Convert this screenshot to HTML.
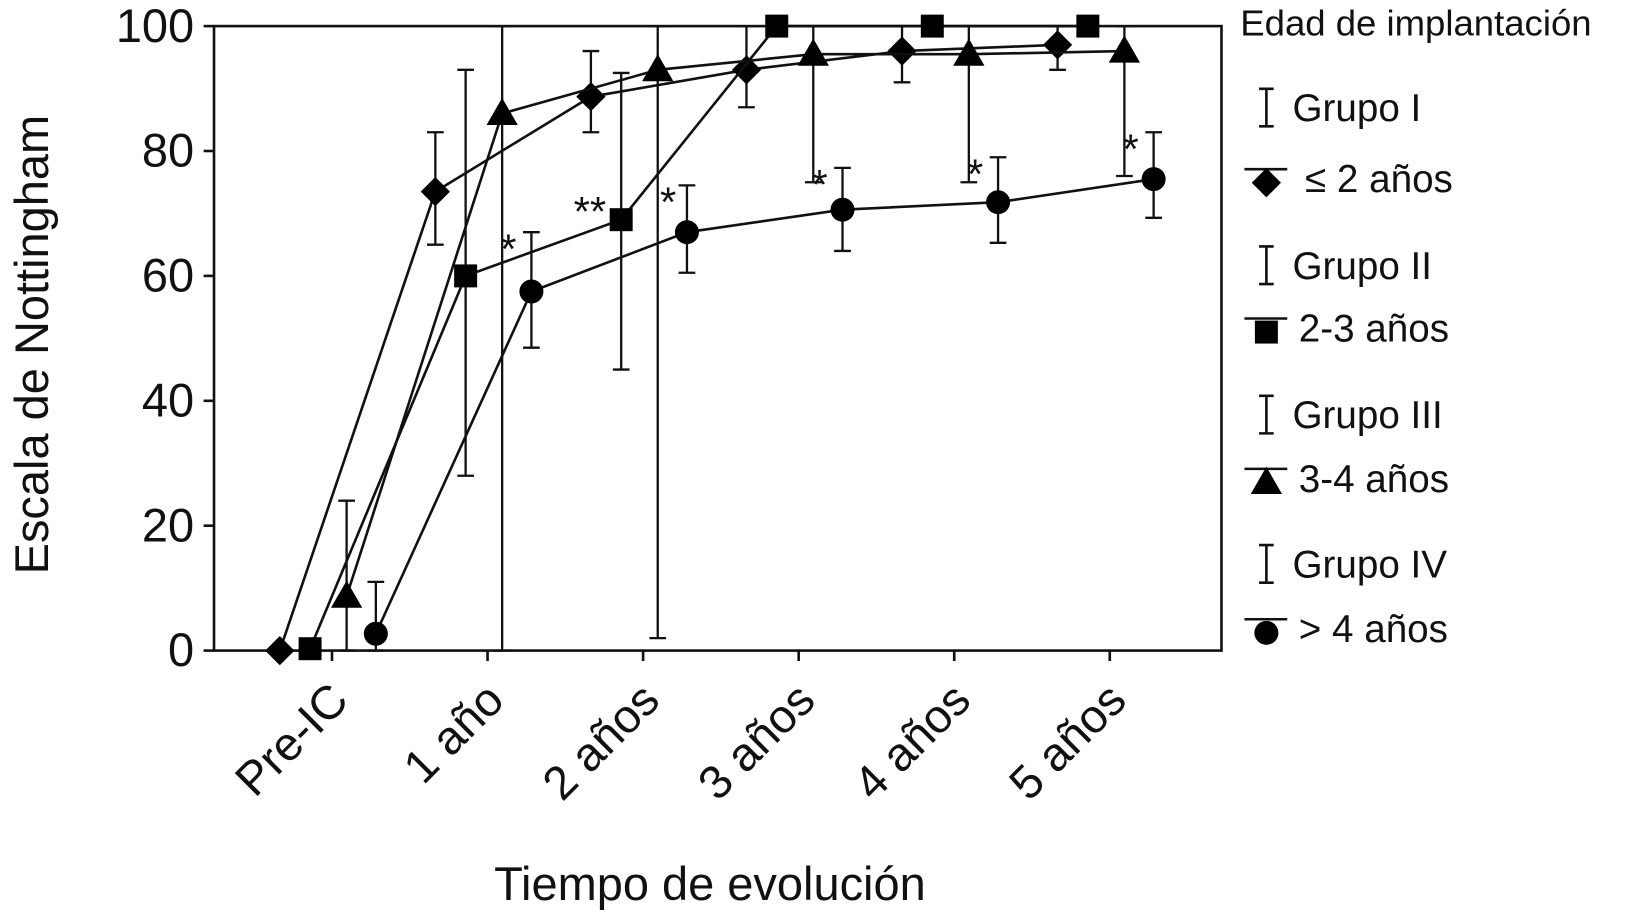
<!DOCTYPE html>
<html><head><meta charset="utf-8"><style>html,body{margin:0;padding:0;background:#fff}svg{display:block}text{font-family:"Liberation Sans",Arial,sans-serif;fill:#111}</style></head>
<body>
<svg id="chart" width="1637" height="920" viewBox="0 0 1568 881" preserveAspectRatio="none" xmlns="http://www.w3.org/2000/svg">
<rect x="205" y="25" width="965" height="598" fill="none" stroke="#111" stroke-width="2.5"/>
<g id="axes"></g><g id="series"></g><g id="legend"></g>
<text transform="translate(46,330) rotate(-90)" text-anchor="middle" font-size="45">Escala de Nottingham</text>
<text x="680" y="862" text-anchor="middle" font-size="45">Tiempo de evolución</text>
</svg>
<script>
const categories=["Pre-IC","1 año","2 años","3 años","4 años","5 años"];
const yTicks=[0,20,40,60,80,100];
const seriesNames=["≤ 2 años","2-3 años","3-4 años","> 4 años"];
const groupNames=["Grupo I","Grupo II","Grupo III","Grupo IV"];
const markers=["diamond","square","triangle","circle"];
const offsets=[-50,-21,14,42];
const diamondVals=[0,73.5,88.7,93,96,97];
const diamondLo=[0,65,83,87,91,93];
const diamondHi=[0,83,96,100,100,100];
const squareVals=[0.3,60,69,100,100,100];
const squareLo=[0.3,28,45,100,100,100];
const squareHi=[0.3,93,92.5,100,100,100];
const triangleVals=[8.7,86,93,95.5,95.5,96];
const triangleLo=[0,0,2,75,75,76];
const triangleHi=[24,100,100,100,100,100];
const circleVals=[2.7,57.5,67,70.6,71.8,75.5];
const circleLo=[0,48.5,60.5,64,65.3,69.3];
const circleHi=[11,67,74.5,77.3,79,83];
const starLabels=["","*","**","*","*","*"];
const starLabels2=["","","*","","",""];
const vals=[diamondVals,squareVals,triangleVals,circleVals];
const los=[diamondLo,squareLo,triangleLo,circleLo];
const his=[diamondHi,squareHi,triangleHi,circleHi];

const NS="http://www.w3.org/2000/svg";
const X0=318,DX=149,YB=623,YT=25;
const xs=i=>X0+i*DX;
const ys=v=>YB-(v/100)*(YB-YT);
function mk(tag,attrs,parent){const e=document.createElementNS(NS,tag);for(const k in attrs)e.setAttribute(k,attrs[k]);parent.appendChild(e);return e;}
const axes=document.getElementById('axes'),ser=document.getElementById('series'),leg=document.getElementById('legend');
yTicks.forEach(t=>{
 const l=mk('line',{x1:195,x2:205,y1:ys(t),y2:ys(t),stroke:'#111','stroke-width':2.5},axes);
 
 
 const tx=mk('text',{x:186,y:ys(t)+15,'text-anchor':'end','font-size':45},axes);tx.textContent=t;
 
 
});
categories.forEach((c,i)=>{
 const l=mk('line',{x1:xs(i),x2:xs(i),y1:YB,y2:YB+10,stroke:'#111','stroke-width':2.5},axes);
 
 
 const tx=mk('text',{transform:`translate(${xs(i)+18},${YB+50}) rotate(-45)`,'text-anchor':'end','font-size':45},axes);tx.textContent=c;
 
 
});
function marker(type,x,y,p,s){
 s=s||1;let e;
 if(type==='diamond')e=mk('polygon',{points:`${x},${y-14*s} ${x+14*s},${y} ${x},${y+14*s} ${x-14*s},${y}`,fill:'#000'},p);
 else if(type==='square')e=mk('rect',{x:x-11*s,y:y-11*s,width:22*s,height:22*s,fill:'#000'},p);
 else if(type==='triangle')e=mk('polygon',{points:`${x},${y-15*s} ${x+15*s},${y+11*s} ${x-15*s},${y+11*s}`,fill:'#000'},p);
 else e=mk('circle',{cx:x,cy:y,r:11.5*s,fill:'#000'},p);
 return e;
}
vals.forEach((v,s)=>{
 const g=mk('g',{},ser);
 
 
 const pts=v.map((d,i)=>`${xs(i)+offsets[s]},${ys(d)}`).join(' ');
 const pl=mk('polyline',{points:pts,fill:'none',stroke:'#111','stroke-width':2.5},g);
 
 
 v.forEach((d,i)=>{
  const x=xs(i)+offsets[s];
  if(his[s][i]!==los[s][i]){
   const eb=mk('path',{d:`M${x},${ys(los[s][i])}V${ys(his[s][i])}M${x-8},${ys(los[s][i])}H${x+8}M${x-8},${ys(his[s][i])}H${x+8}`,stroke:'#111','stroke-width':2.2,fill:'none'},g);
   
   
  }
  const m=marker(markers[s],x,ys(d),g);
  
  
 });
});
starLabels.forEach((st,i)=>{
 if(!st)return;
 const x=xs(i)+offsets[3];
 const t=mk('text',{x:x-22,y:ys(circleHi[i])+30,'text-anchor':'middle','font-size':40},ser);
 if(i===2){t.setAttribute('x',xs(i)+offsets[1]-30);t.setAttribute('y',ys(squareVals[i])+6);}
 t.textContent=st;
 
 
});
starLabels2.forEach((st,i)=>{
 if(!st)return;
 const t=mk('text',{x:xs(i)+offsets[3]-18,y:ys(circleHi[i])+30,'text-anchor':'middle','font-size':40},ser);
 t.textContent=st;
 
 
});
const lt=mk('text',{x:1188,y:34,'font-size':35},leg);lt.textContent="Edad de implantación";


const gy=[103,254,397,540],sy=[172,315,459,603];
groupNames.forEach((g,k)=>{
 const y=gy[k];
 const e=mk('path',{d:`M1213,${y-18}V${y+18}M1206,${y-18}H1220M1206,${y+18}H1220`,stroke:'#111','stroke-width':2.5,fill:'none'},leg);
 
 
 const t=mk('text',{x:1238,y:y+13,'font-size':37},leg);t.textContent=g;
 
 
 const y2=sy[k];
 const ln=mk('line',{x1:1192,x2:1233,y1:y2-10,y2:y2-10,stroke:'#111','stroke-width':2.5},leg);
 
 
 const m=marker(markers[k],1213,y2+3,leg,1);
 
 
 const t2=mk('text',{x:k===0?1250:1244,y:y2+12,'font-size':37},leg);t2.textContent=seriesNames[k];
 
 
});
</script>
</body></html>
